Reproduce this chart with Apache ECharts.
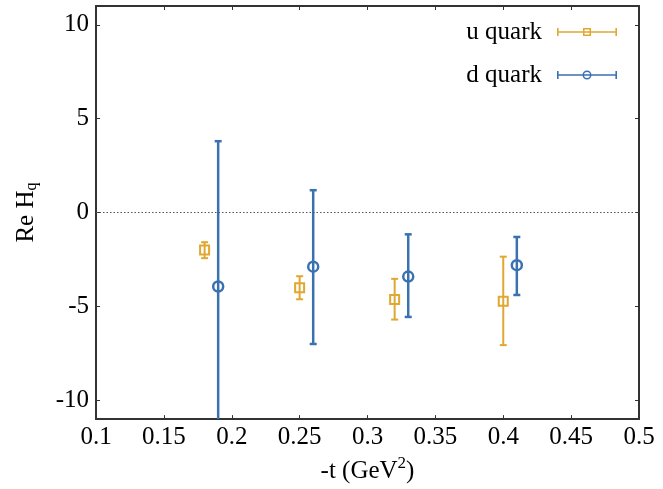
<!DOCTYPE html>
<html>
<head>
<meta charset="utf-8">
<script src="https://cdn.jsdelivr.net/npm/echarts@6/dist/echarts.min.js"></script>
<style>
  html, body { margin: 0; padding: 0; background: #fff; }
  #main { width: 663px; height: 489px; }
</style>
</head>
<body>
<div id="main"></div>
<script>
// data: [ -t, value, low, high ]
var uQuark = [
  [0.18, -2.0, -2.43, -1.58],
  [0.25, -4.0, -4.62, -3.39],
  [0.32, -4.63, -5.7, -3.53],
  [0.40, -4.73, -7.06, -2.35]
];
var dQuark = [
  [0.19, -3.94, -11.7, 3.8],
  [0.26, -2.88, -7.0, 1.19],
  [0.33, -3.41, -5.56, -1.16],
  [0.41, -2.8, -4.39, -1.3]
];
var yTicks = [-10, -5, 0, 5, 10];

var uColor = '#e0a731';
var dColor = '#3a72b0';
var font = 'Liberation Serif';

// legend icons : error bar with marker (filled shapes, inner hole reversed)
var barPath = 'M0,4.25 h60 v1.5 h-60 z M0,1 h1.6 v8 h-1.6 z M58.4,1 h1.6 v8 h-1.6 z ';
var squareIcon = 'path://' + barPath + 'M26,1 h8 v8 h-8 z M27.5,2.5 v5 h5 v-5 z';
var circleIcon = 'path://' + barPath +
  'M30,0.5 a4.5,4.5 0 1,1 0,9 a4.5,4.5 0 1,1 0,-9 z M30,2 a3,3 0 1,0 0,6 a3,3 0 1,0 0,-6 z';

function errorBar(marker, lw) {
  return function (params, api) {
    var x = api.value(0);
    var c = api.coord([x, api.value(1)]);
    var lo = api.coord([x, api.value(2)]);
    var hi = api.coord([x, api.value(3)]);
    var color = api.visual('color');
    var st = { stroke: color, lineWidth: lw, fill: null };
    var cap = 3.5;
    var mk;
    if (marker == 'square') {
      mk = { type: 'rect', shape: { x: c[0] - 4.5, y: c[1] - 4.5, width: 9, height: 9 }, style: st };
    } else {
      mk = { type: 'circle', shape: { cx: c[0], cy: c[1], r: 5 }, style: st };
    }
    return {
      type: 'group',
      children: [
        { type: 'line', shape: { x1: c[0], y1: lo[1], x2: c[0], y2: hi[1] }, style: st },
        { type: 'line', shape: { x1: c[0] - cap, y1: lo[1], x2: c[0] + cap, y2: lo[1] }, style: st },
        { type: 'line', shape: { x1: c[0] - cap, y1: hi[1], x2: c[0] + cap, y2: hi[1] }, style: st },
        mk
      ]
    };
  };
}

var axisLineStyle = { color: '#333', width: 2 };
var tickStyle = { show: true, inside: true, length: 4, lineStyle: { color: '#333', width: 1 } };

var option = {
  animation: false,
  backgroundColor: '#fff',
  grid: { left: 96, top: 6, right: 24, bottom: 66 },
  legend: {
    orient: 'vertical',
    right: 41,
    top: 12,
    align: 'right',
    itemWidth: 60,
    itemHeight: 10,
    itemGap: 13,
    textStyle: { fontFamily: font, fontSize: 25, color: '#000', lineHeight: 30, padding: [0, 10, 0, 0] },
    data: [
      { name: 'u quark', icon: squareIcon },
      { name: 'd quark', icon: circleIcon }
    ]
  },
  xAxis: [{
    type: 'value', min: 0.1, max: 0.5, interval: 0.05,
    name: '-t (GeV{sup|2})', nameLocation: 'middle', nameGap: 31,
    nameTextStyle: {
      fontFamily: font, fontSize: 25, color: '#000',
      rich: { sup: { fontFamily: font, fontSize: 17, color: '#000', padding: [0, 0, 16, 0] } }
    },
    axisLine: { show: true, onZero: false, lineStyle: axisLineStyle },
    axisTick: tickStyle,
    splitLine: { show: false },
    axisLabel: {
      fontFamily: font, fontSize: 25, color: '#000', margin: 6,
      formatter: function (v) { return String(+v.toFixed(2)); }
    }
  }, {
    type: 'value', min: 0.1, max: 0.5, interval: 0.05, position: 'top',
    axisLine: { show: true, onZero: false, lineStyle: axisLineStyle },
    axisTick: tickStyle,
    axisLabel: { show: false },
    splitLine: { show: false }
  }],
  yAxis: [{
    type: 'value', min: -11, max: 11,
    name: 'Re H{sub|q}', nameLocation: 'middle', nameGap: 56,
    nameTextStyle: {
      fontFamily: font, fontSize: 25, color: '#000',
      rich: { sub: { fontFamily: font, fontSize: 16, color: '#000', padding: [12, 0, 0, 0] } }
    },
    axisLine: { show: true, onZero: false, lineStyle: axisLineStyle },
    axisTick: { show: true, inside: true, length: 4, customValues: yTicks, lineStyle: { color: '#333', width: 1 } },
    splitLine: { show: false },
    axisLabel: { fontFamily: font, fontSize: 25, color: '#000', margin: 7, customValues: yTicks }
  }, {
    type: 'value', min: -11, max: 11, position: 'right',
    axisLine: { show: true, onZero: false, lineStyle: axisLineStyle },
    axisTick: { show: true, inside: true, length: 4, customValues: yTicks, lineStyle: { color: '#333', width: 1 } },
    axisLabel: { show: false },
    splitLine: { show: false }
  }],
  series: [{
    name: 'u quark',
    type: 'custom',
    clip: true,
    itemStyle: { color: uColor },
    renderItem: errorBar('square', 2),
    encode: { x: 0, y: [1, 2, 3] },
    data: uQuark,
    markLine: {
      silent: true,
      symbol: 'none',
      label: { show: false },
      lineStyle: { type: [1.5, 2], color: '#555', width: 1.2 },
      data: [{ yAxis: 0 }]
    },
    z: 3
  }, {
    name: 'd quark',
    type: 'custom',
    clip: true,
    itemStyle: { color: dColor },
    renderItem: errorBar('circle', 2.5),
    encode: { x: 0, y: [1, 2, 3] },
    data: dQuark,
    z: 4
  }]
};

var myChart = echarts.init(document.getElementById('main'));
myChart.setOption(option);
</script>
</body>
</html>
